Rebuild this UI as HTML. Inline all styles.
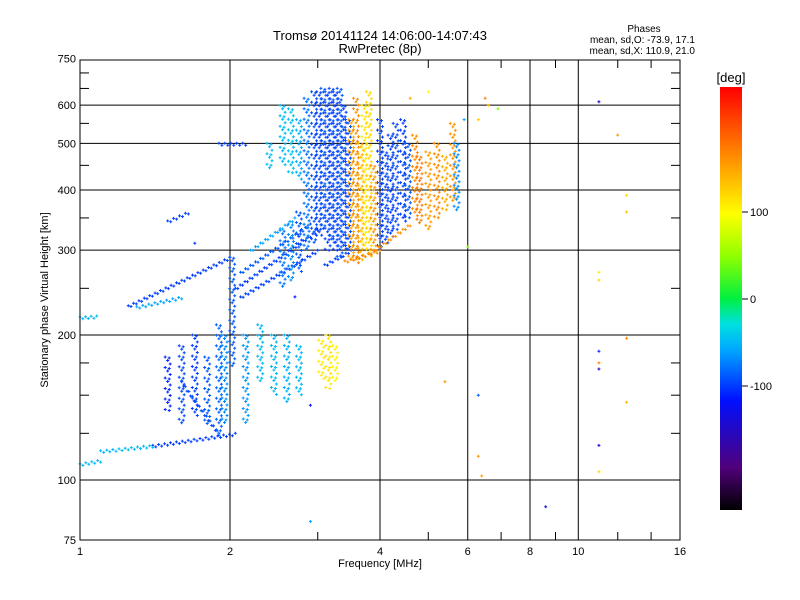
<!DOCTYPE html>
<html><head><meta charset="utf-8"><style>
body{margin:0;background:#fff;}
svg{display:block;font-family:"Liberation Sans",sans-serif;}
</style></head><body>
<svg id="chart" width="800" height="600" viewBox="0 0 800 600">
<rect width="800" height="600" fill="#fff"/>
<defs>
<linearGradient id="cb" x1="0" y1="1" x2="0" y2="0">
<stop offset="0" stop-color="#000000"/><stop offset="0.1" stop-color="#50007a"/>
<stop offset="0.26" stop-color="#0010ff"/><stop offset="0.38" stop-color="#00a8ff"/>
<stop offset="0.44" stop-color="#00e0e0"/><stop offset="0.5" stop-color="#00f040"/>
<stop offset="0.6" stop-color="#90ff00"/><stop offset="0.7" stop-color="#ffff00"/>
<stop offset="0.85" stop-color="#ff8000"/><stop offset="1" stop-color="#ff0000"/>
</linearGradient>
</defs>
<g id="grid"></g>
<g id="marks"></g>
<rect x="80" y="60" width="600" height="480" fill="none" stroke="#000" stroke-width="1"/>
<g id="axes"></g>
<text x="380" y="40" font-size="13" text-anchor="middle">Tromsø 20141124 14:06:00-14:07:43</text>
<text x="380" y="53" font-size="13" text-anchor="middle">RwPretec (8p)</text>
<text x="644" y="32" font-size="10" text-anchor="middle">Phases</text>
<text x="695" y="43" font-size="10" text-anchor="end">mean, sd,O: -73.9, 17.1</text>
<text x="695" y="54" font-size="10" text-anchor="end">mean, sd,X: 110.9, 21.0</text>
<text x="380" y="567" font-size="11" text-anchor="middle">Frequency [MHz]</text>
<text transform="translate(48,300) rotate(-90)" font-size="11" text-anchor="middle">Stationary phase Virtual Height [km]</text>
<rect x="720" y="87" width="22" height="423" fill="url(#cb)"/>
<text x="731" y="82" font-size="13" text-anchor="middle">[deg]</text>
<g id="cbaxis"></g>
</svg>
<script>
const xTicks=[1,2,4,6,8,10,16];
const xMinor=[3,5,7,9,12,14];
const yTicks=[75,100,200,300,400,500,600,750];
const yGrid=[100,200,300,400,500,600];
const yMinor=[125,150,175,250,350,450,550,650,700];
const cbTicks=[100,0,-100];
// columns: [freqMHz, heightLow, heightHigh, phaseDeg]
const columns=[
[3.02,320,640,-100],[3.08,330,650,-90],[3.14,300,640,-100],[3.2,310,650,-95],[3.26,300,640,-100],[3.32,290,650,-90],[3.38,300,600,-100],[3.45,300,560,-95],
[3.5,285,560,150],[3.58,280,620,165],[3.66,285,500,145],[3.72,300,600,110],[3.8,290,640,120],[3.88,300,450,160],
[4.0,300,560,-100],[4.1,310,480,-95],[4.2,320,520,-100],[4.3,330,550,-95],[4.45,340,560,-100],[4.55,350,500,-90],
[4.7,350,520,165],[4.8,340,470,175],[5.0,330,480,155],[5.2,350,500,165],[5.4,360,470,145],[5.6,380,550,160],[5.7,360,500,-70],
[2.55,250,330,-80],[2.65,260,340,-70],[2.75,270,360,-90],[2.85,300,620,-80],[2.95,310,640,-95],
[2.55,450,600,-50],[2.65,430,590,-45],[2.75,420,560,-55],[2.4,440,500,-50],
[2.02,170,290,-90],[1.5,140,180,-110],[1.6,130,190,-95],[1.7,135,200,-100],[1.8,130,180,-90],[1.9,125,210,-85],[1.95,130,200,-70],
[2.3,160,210,-50],[2.45,150,200,-50],[2.6,145,200,-55],[2.75,150,190,-50],[2.15,130,200,-65],
[3.05,160,195,110],[3.15,155,200,115],[3.25,160,190,105]
];
// traces: [f1,h1,f2,h2,phase]
const traces=[
[1.0,108,1.1,110,-50],[1.1,115,1.4,118,-50],[1.0,218,1.08,219,-50],[1.4,118,2.05,125,-100],
[1.25,230,2.0,290,-100],[1.3,229,1.6,240,-60],[2.05,250,3.0,330,-100],[2.1,270,2.9,340,-90],
[2.1,240,3.0,300,-100],[2.2,300,2.7,350,-60],[1.9,500,2.15,500,-100],[3.4,285,4.0,300,170],
[3.8,295,4.6,340,160],[3.1,280,3.5,300,-100],[1.5,345,1.65,360,-100],[1.6,160,1.9,125,-95]
];
// outliers: [freq,height,phase]
const outliers=[
[11,610,-150],[12,520,160],[12.5,390,120],[12.5,360,130],[11,270,110],[11,260,120],[12.5,197,170],[11,185,-110],[11,175,170],[11,170,-150],
[12.5,145,140],[11,118,-140],[11,104,120],[8.6,88,-130],[6.4,102,150],[6.3,112,160],[6.3,150,-90],[5.4,160,160],[2.9,82,-60],[2.9,143,-120],
[6.6,600,140],[6.5,620,170],[6.3,560,130],[6.9,590,40],[6.0,305,40],[5.9,560,-60],[4.6,620,150],[5.0,640,100],[2.7,240,-120],[1.7,310,-100]
];
const NS='http://www.w3.org/2000/svg';
const X=f=>80+150*Math.log2(f);
const Y=h=>480-145*Math.log2(h/100);
const CB=v=>299-0.87*v;
const stops=[[0,[0,0,0]],[0.1,[80,0,122]],[0.26,[0,16,255]],[0.38,[0,168,255]],[0.44,[0,224,224]],[0.5,[0,240,64]],[0.6,[144,255,0]],[0.7,[255,255,0]],[0.85,[255,128,0]],[1,[255,0,0]]];
function col(v){let t=(v+245)/490;t=Math.max(0,Math.min(1,t));
for(let i=1;i<stops.length;i++){if(t<=stops[i][0]){const a=stops[i-1],b=stops[i],u=(t-a[0])/(b[0]-a[0]);
return 'rgb('+a[1].map((c,k)=>Math.round(c+(b[1][k]-c)*u)).join(',')+')';}}return 'rgb(255,0,0)';}
function mk(tag,at,parent){const e=document.createElementNS(NS,tag);for(const k in at)e.setAttribute(k,at[k]);parent.appendChild(e);return e;}
const grid=document.getElementById('grid'),axes=document.getElementById('axes'),marks=document.getElementById('marks'),cba=document.getElementById('cbaxis');
xTicks.forEach(f=>{const x=X(f);
if(f>1&&f<16){const l=mk('line',{x1:x,x2:x,y1:60,y2:540,stroke:'#000'},grid);}
const t=mk('text',{x:x,y:555,'font-size':11,'text-anchor':'middle'},axes);t.textContent=f;
});
xMinor.forEach(f=>{const x=X(f);mk('line',{x1:x,x2:x,y1:540,y2:532,stroke:'#000'},axes);mk('line',{x1:x,x2:x,y1:60,y2:68,stroke:'#000'},axes);});
yGrid.forEach(h=>{const y=Y(h);const l=mk('line',{x1:80,x2:680,y1:y,y2:y,stroke:'#000'},grid);
});
yTicks.forEach(h=>{const t=mk('text',{x:76,y:Y(h)+4,'font-size':11,'text-anchor':'end'},axes);t.textContent=h;
});
yMinor.forEach(h=>{const y=Y(h);mk('line',{x1:80,x2:89,y1:y,y2:y,stroke:'#000'},axes);mk('line',{x1:671,x2:680,y1:y,y2:y,stroke:'#000'},axes);});
cbTicks.forEach(v=>{const y=CB(v);mk('line',{x1:742,x2:748,y1:y,y2:y,stroke:'#000'},cba);
const t=mk('text',{x:750,y:y+4,'font-size':11},cba);t.textContent=v;
});
let d={};
function add(x,y,v){const c=col(v);(d[c]=d[c]||[]).push('M'+(x-1.5).toFixed(1)+' '+y.toFixed(1)+'h3M'+x.toFixed(1)+' '+(y-1.5).toFixed(1)+'v3');}
columns.forEach(c=>{const x=X(c[0]),y1=Y(c[2]),y2=Y(c[1]);let i=0;
for(let y=y1;y<=y2;y+=3.5,i++){add(x+((i%3)-1)*2.5,y,c[3]);if(i%3==0)add(x+((i%3)-1)*2.5+4,y+1,c[3]);}});
traces.forEach(t=>{const x1=X(t[0]),y1=Y(t[1]),x2=X(t[2]),y2=Y(t[3]);const n=Math.max(2,Math.round(Math.hypot(x2-x1,y2-y1)/3));
for(let i=0;i<=n;i++){const u=i/n;add(x1+(x2-x1)*u,y1+(y2-y1)*u+((i%2)?2:0),t[4]);}});
outliers.forEach(o=>add(X(o[0]),Y(o[1]),o[2]));
for(const c in d){const p=mk('path',{d:d[c].join(''),stroke:c,'stroke-width':1,fill:'none'},marks);
}
</script>
</body></html>
